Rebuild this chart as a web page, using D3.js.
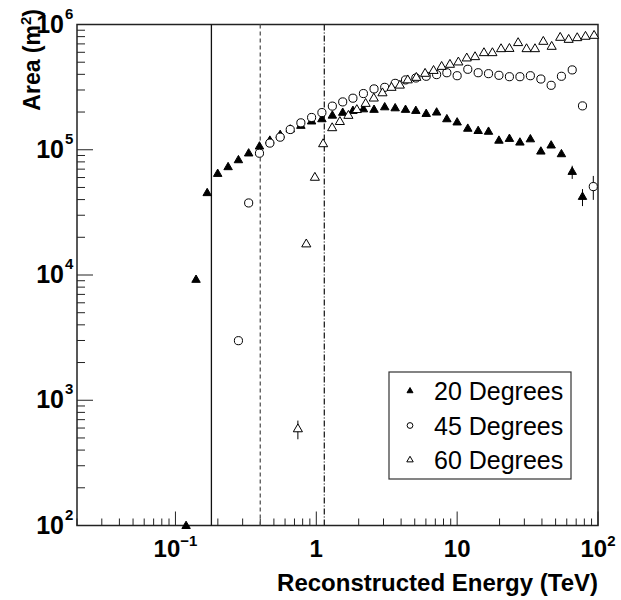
<!doctype html>
<html>
<head>
<meta charset="utf-8">
<script src="https://d3js.org/d3.v7.min.js"></script>
<style>
  body { margin: 0; background: #fff; }
  text { font-family: "Liberation Sans", Arial, Helvetica, sans-serif; }
</style>
</head>
<body>
<script>
// energies (TeV) and effective areas (m^2)
var e20 = [0.119, 0.140, 0.168, 0.1995, 0.2365, 0.280, 0.331, 0.395, 0.468, 0.554, 0.653, 0.777, 0.926,
           1.096, 1.30, 1.54, 1.82, 2.16, 2.57, 3.06, 3.63, 4.30, 5.09, 6.03, 7.15, 8.45, 10.0, 11.9,
           14.1, 16.7, 19.8, 23.5, 27.9, 33.1, 39.3, 46.5, 55.0, 65.6, 77.6];
var a20 = [99, 9140, 45000, 64100, 72500, 82400, 93300, 106000, 118000, 131000, 145000, 155000, 168000,
           175000, 187000, 197000, 204000, 210000, 208000, 218000, 214000, 208000, 204000, 193000, 198000,
           175000, 165000, 147000, 141000, 139000, 118000, 122000, 114000, 121000, 96600, 108000, 92000,
           66500, 42000];
var err20 = [0, 0, 0, 0, 0, 0, 0, 0, 0, 0, 0, 0, 0, 0, 0, 0, 0, 0, 0, 0, 0, 0, 0, 0, 0, 0, 0, 0, 0, 0,
             0, 0, 0, 0, 0, 0, 0, 8000, 6500];

var e45 = [0.280, 0.331, 0.395, 0.468, 0.554, 0.653, 0.777, 0.926, 1.096, 1.30, 1.54, 1.82, 2.16, 2.57,
           3.06, 3.63, 4.30, 5.09, 6.03, 7.15, 8.45, 10.0, 11.9, 14.1, 16.7, 19.8, 23.5, 27.9, 33.1, 39.3,
           46.5, 55.0, 65.6, 77.6, 92.6];
var a45 = [2990, 37600, 93800, 113000, 126000, 145000, 164000, 181000, 198000, 223000, 241000, 258000,
           281000, 306000, 315000, 339000, 361000, 374000, 386000, 398000, 412000, 390000, 439000, 412000,
           405000, 393000, 383000, 383000, 390000, 367000, 327000, 386000, 434000, 224000, 50800];
var err45 = [0, 0, 0, 0, 0, 0, 0, 0, 0, 0, 0, 0, 0, 0, 0, 0, 0, 0, 0, 0, 0, 0, 0, 0, 0, 0, 0, 0, 0, 0,
             0, 0, 0, 0, 11000];

var e60 = [0.740, 0.849, 0.977, 1.118, 1.296, 1.47, 1.69, 1.94, 2.24, 2.56, 2.95, 3.42, 3.92, 4.46, 5.13,
           5.92, 6.80, 7.76, 8.89, 10.2, 11.7, 13.4, 15.5, 17.8, 20.5, 23.5, 27.1, 31.1, 35.7, 40.9, 46.9,
           53.9, 61.9, 71.2, 81.5, 93.8];
var a60 = [588, 17600, 59900, 111000, 149000, 167000, 187000, 208000, 233000, 257000, 283000, 313000,
           326000, 359000, 376000, 405000, 427000, 460000, 478000, 499000, 537000, 550000, 592000, 592000,
           637000, 640000, 712000, 637000, 637000, 729000, 665000, 785000, 756000, 780000, 800000, 814000];
var err60 = [100, 0, 0, 0, 0, 0, 0, 0, 0, 0, 0, 0, 0, 0, 0, 0, 0, 0, 0, 0, 0, 0, 0, 0, 0, 0, 0, 0, 0, 0,
             0, 0, 0, 0, 0, 0];

var legendLabels = ["20 Degrees", "45 Degrees", "60 Degrees"];
var cutEnergies = [0.18, 0.4, 1.14];
var xTickMajor = [0.1, 1, 10, 100];
var yTickMajor = [1e2, 1e3, 1e4, 1e5, 1e6];

var W = 621, H = 600;
var pl = 77, pr = 598, pt = 24.5, pb = 525.5;

var svg = d3.select("body").append("svg")
    .attr("width", W)
    .attr("height", H);

var x = d3.scaleLog().domain([0.02, 100]).range([pl, pr]);
var y = d3.scaleLog().domain([100, 1e6]).range([pb, pt]);

// minor ticks 2..9 per decade inside domain
function minors(lo, hi) {
  var out = [];
  for (var p = Math.floor(Math.log10(lo)); p < Math.ceil(Math.log10(hi)); p++) {
    for (var m = 2; m <= 9; m++) {
      var v = m * Math.pow(10, p);
      if (v >= lo * 0.999 && v <= hi) out.push(v);
    }
  }
  return out;
}

// frame
svg.append("rect")
    .attr("x", pl).attr("y", pt)
    .attr("width", pr - pl).attr("height", pb - pt)
    .attr("fill", "none").attr("stroke", "#222").attr("stroke-width", 1.5);

// x ticks (pointing up)
var xt = svg.append("g");
xt.selectAll(".xmin").data(minors(0.02, 100)).enter().append("line")
    .attr("x1", d => x(d)).attr("x2", d => x(d))
    .attr("y1", pb).attr("y2", pb - 7)
    .attr("stroke", "#222").attr("stroke-width", 1);
xt.selectAll(".xmaj").data(xTickMajor).enter().append("line")
    .attr("x1", d => x(d)).attr("x2", d => x(d))
    .attr("y1", pb).attr("y2", pb - 14)
    .attr("stroke", "#222").attr("stroke-width", 1);

// y ticks (pointing right)
var yt = svg.append("g");
yt.selectAll(".ymin").data(minors(100, 1e6)).enter().append("line")
    .attr("x1", pl).attr("x2", pl + 8)
    .attr("y1", d => y(d)).attr("y2", d => y(d))
    .attr("stroke", "#222").attr("stroke-width", 1);
yt.selectAll(".ymaj").data(yTickMajor).enter().append("line")
    .attr("x1", pl).attr("x2", pl + 16)
    .attr("y1", d => y(d)).attr("y2", d => y(d))
    .attr("stroke", "#222").attr("stroke-width", 1);

// x tick labels
function xLabel(g, v, base, sup) {
  var t = g.append("text")
      .attr("x", x(v)).attr("y", 557)
      .attr("text-anchor", "middle")
      .attr("font-size", 24).attr("font-weight", "bold");
  t.append("tspan").text(base);
  if (sup) t.append("tspan").attr("dy", -11).attr("font-size", 15).text(sup);
}
var xl = svg.append("g");
xLabel(xl, 0.1, "10", "\u22121");
xLabel(xl, 1, "1", null);
xLabel(xl, 10, "10", null);
xLabel(xl, 100, "10", "2");

// y tick labels
var yl = svg.append("g");
yTickMajor.forEach(function(v) {
  var p = Math.round(Math.log10(v));
  yl.append("text")
      .attr("x", 64).attr("y", y(v) + 8)
      .attr("text-anchor", "end")
      .attr("font-size", 25).attr("font-weight", "bold")
      .text("10");
  yl.append("text")
      .attr("x", 65).attr("y", y(v) - 6)
      .attr("font-size", 15).attr("font-weight", "bold")
      .text(p);
});

// axis titles
svg.append("text")
    .attr("x", 598).attr("y", 591)
    .attr("text-anchor", "end")
    .attr("font-size", 24).attr("font-weight", "bold")
    .text("Reconstructed Energy (TeV)");

var yTitle = svg.append("text")
    .attr("transform", "translate(40,9) rotate(-90)")
    .attr("text-anchor", "end")
    .attr("font-size", 23).attr("font-weight", "bold");
yTitle.append("tspan").text("Area (m");
yTitle.append("tspan").attr("dy", -9).attr("font-size", 15).text("2");
yTitle.append("tspan").attr("dy", 9).text(")");

// cut lines
var cutDash = [null, "4,3", "6,2,1,2"];
var cutColor = ["#111", "#555", "#222"];
svg.selectAll(".cut").data(cutEnergies).enter().append("line")
    .attr("x1", d => x(d)).attr("x2", d => x(d))
    .attr("y1", pt).attr("y2", pb)
    .attr("stroke", (d, i) => cutColor[i])
    .attr("stroke-width", 1.3)
    .attr("stroke-dasharray", (d, i) => cutDash[i]);

// series
var series = [
  {e: e20, a: a20, err: err20, type: d3.symbolTriangle, size: 31, fill: "#000"},
  {e: e45, a: a45, err: err45, type: d3.symbolCircle, size: 52, fill: "#fff"},
  {e: e60, a: a60, err: err60, type: d3.symbolTriangle, size: 36, fill: "#fff"}
];

var plot = svg.append("g");
series.forEach(function(s) {
  var pts = s.e.map((d, i) => ({e: d, a: s.a[i], err: s.err[i]}));
  plot.selectAll(null).data(pts.filter(d => d.err > 0)).enter().append("line")
      .attr("x1", d => x(d.e)).attr("x2", d => x(d.e))
      .attr("y1", d => y(d.a + d.err)).attr("y2", d => y(Math.max(d.a - d.err, 1)))
      .attr("stroke", "#000").attr("stroke-width", 1);
  plot.selectAll(null).data(pts).enter().append("path")
      .attr("transform", d => "translate(" + x(d.e) + "," + y(d.a) + ")")
      .attr("d", d3.symbol().type(s.type).size(s.size))
      .attr("fill", s.fill)
      .attr("stroke", "#000").attr("stroke-width", 1);
});

// legend
var lg = svg.append("g");
lg.append("rect")
    .attr("x", 389).attr("y", 372).attr("width", 182).attr("height", 107)
    .attr("fill", "#fff").attr("stroke", "#333").attr("stroke-width", 1.2);
var rowY = d3.scalePoint().domain(legendLabels).range([391, 460]);
legendLabels.forEach(function(lab, i) {
  lg.append("path")
      .attr("transform", "translate(410," + rowY(lab) + ")")
      .attr("d", d3.symbol().type(series[i].type).size(series[i].size * 0.5))
      .attr("fill", series[i].fill).attr("stroke", "#000").attr("stroke-width", 1);
  lg.append("text")
      .attr("x", 434).attr("y", rowY(lab))
      .attr("dominant-baseline", "central")
      .attr("font-size", 25)
      .text(lab);
});
</script>
</body>
</html>
